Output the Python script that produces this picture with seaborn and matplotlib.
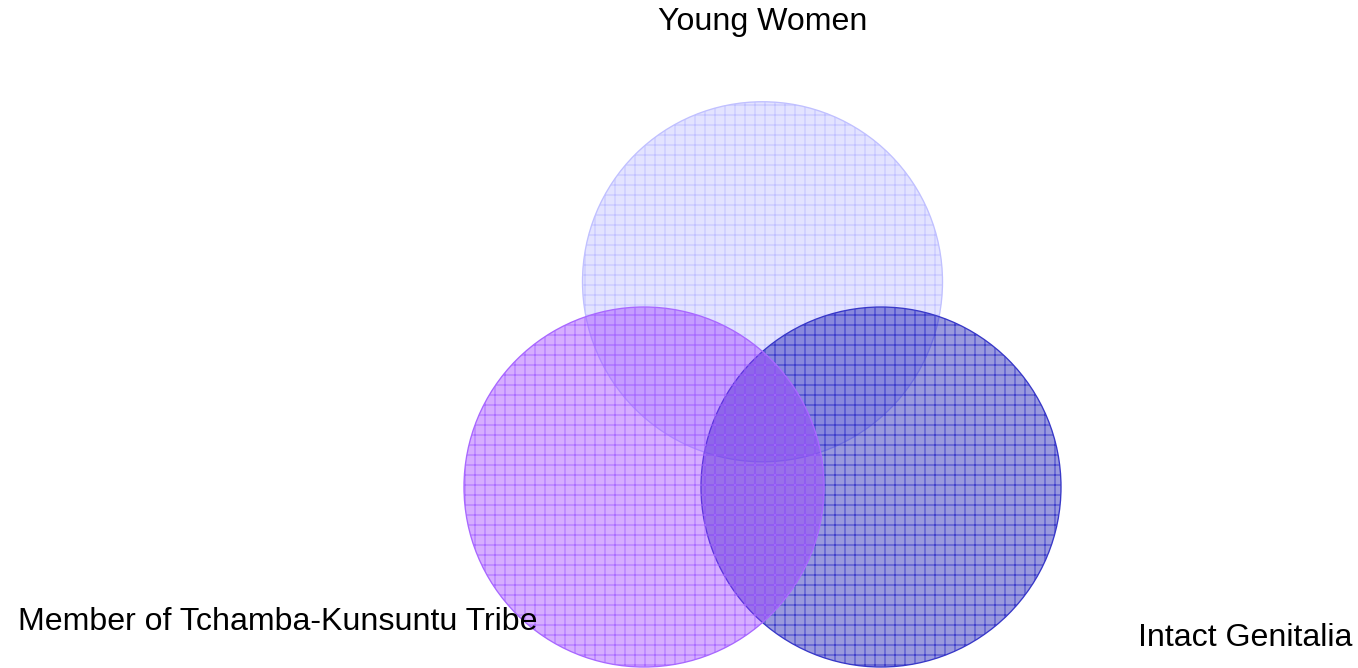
import numpy as np
import matplotlib
matplotlib.use("Agg")
import matplotlib.pyplot as plt
from matplotlib.patches import Circle
import seaborn as sns

# ---- data ----
set_labels = ["Young Women", "Member of Tchamba-Kunsuntu Tribe", "Intact Genitalia"]
face_colors = ["#8080ff", "#9933ff", "#0000aa"]
face_alpha = [0.22, 0.40, 0.40]
edge_colors = ["#c0c0ff", "#a868ff", "#3838c8"]
draw_order = [0, 2, 1]

sns.set_style("white")
plt.rcParams['font.family'] = ['Liberation Sans', 'DejaVu Sans']
plt.rcParams['hatch.linewidth'] = 0.55

W, H, DPI = 1358, 668, 120
fig = plt.figure(figsize=(W / DPI, H / DPI), dpi=DPI)
ax = fig.add_axes([0, 0, 1, 1])
ax.set_xlim(0, W)
ax.set_ylim(H, 0)
ax.set_aspect("equal")
ax.axis("off")

# layout: equilateral arrangement of three equal circles
r = 180
side = 237
base_y = 487
cx = 762.5
centers = [
    (cx, base_y - side * np.sqrt(3) / 2),
    (cx - side / 2, base_y),
    (cx + side / 2, base_y),
]

for i in draw_order:
    (x, y), fc, a, ec = centers[i], face_colors[i], face_alpha[i], edge_colors[i]
    rgba = matplotlib.colors.to_rgba(fc, a)
    ax.add_patch(Circle((x, y), r, facecolor=rgba, edgecolor=ec, lw=0.8,
                        hatch="++"))

fs = 19.3
ax.text(763, 22, set_labels[0], ha="center", va="center", fontsize=fs, color="black")
ax.text(18, 622, set_labels[1], ha="left", va="center", fontsize=fs, color="black")
ax.text(1352, 638, set_labels[2], ha="right", va="center", fontsize=fs, color="black")

fig.savefig("out.png", dpi=DPI, facecolor="white")
